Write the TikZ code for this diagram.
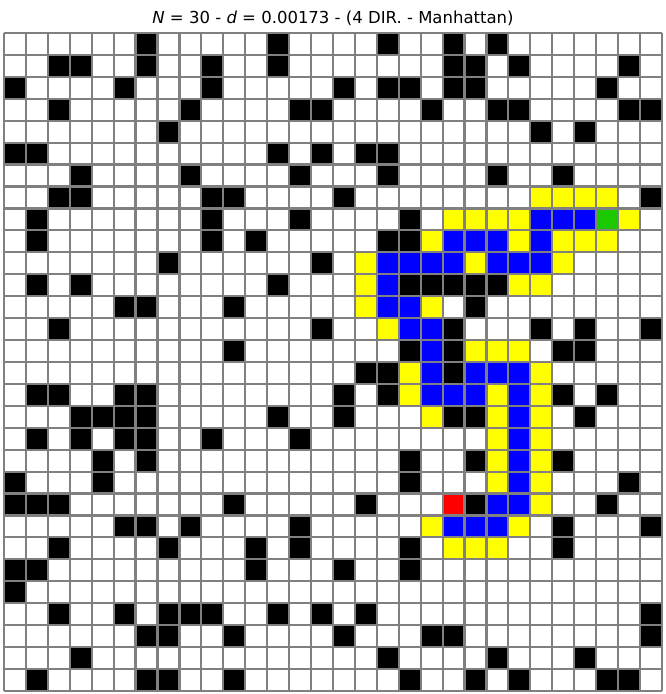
\documentclass[tikz,border=0pt]{standalone}
\usepackage{fontspec}
\setmainfont{DejaVu Sans}
\definecolor{gridgray}{HTML}{808080}
\definecolor{pathblue}{HTML}{0000FF}
\definecolor{openyellow}{HTML}{FFFF00}
\definecolor{goalgreen}{HTML}{1CC800}
\definecolor{startred}{HTML}{FF0000}
\tikzset{
  gridline/.style={draw=gridgray, line width=2.2pt},
  titletext/.style={font=\fontsize{16.5}{18}\selectfont, inner sep=0pt}
}
\newcommand\cellsz{21.93}
\newcommand\paintcells[2]{%
  \foreach \r/\cs in {#2}{%
    \foreach \c in \cs{%
      \fill[#1] ({4+\cellsz*\c},{33+\cellsz*\r}) rectangle ++(\cellsz,\cellsz);
    }%
  }%
}
\begin{document}
\begin{tikzpicture}[x=1pt,y=-1pt]
\fill[white] (0,0) rectangle (666,694);
\useasboundingbox (0,0) rectangle (666,694);
\node[titletext] (title) at (333,18.5) {{\itshape N} = 30 - {\itshape d} = 0.00173 - (4 DIR. - Manhattan)};
% obstacles
\paintcells{black}{0/{6,12,17,20,22},1/{2,3,6,9,12,20,21,23,28},2/{0,5,9,15,17,18,20,21,27},3/{2,8,13,14,19,22,23,28,29},4/{7,24,26},5/{0,1,12,14,16,17},6/{3,8,13,17,22,25},7/{2,3,9,10,15,29},8/{1,9,13,18},9/{1,9,11,17,18},10/{7,14},11/{1,3,12,18,19,20,21,22},12/{5,6,10,21},13/{2,14,20,24,26,29},14/{10,18,20,25,26},15/{16,17,20},16/{1,2,5,6,15,17,25,27},17/{3,4,5,6,12,15,20,21,26},18/{1,3,5,6,9,13},19/{4,6,18,21,25},20/{0,4,18,28},21/{0,1,2,10,16,21,27},22/{5,6,8,13,25,29},23/{2,7,11,13,18,25},24/{0,1,11,15,18},25/{0},26/{2,5,7,8,9,12,14,16,29},27/{6,7,10,15,19,20,29},28/{3,17,22,26},29/{1,6,7,10,18,21,23,27,28}}
% explored frontier
\paintcells{openyellow}{7/{24,25,26,27},8/{20,21,22,23,28},9/{19,23,25,26,27},10/{16,21,25},11/{16,23,24},12/{16,19},13/{17},14/{21,22,23},15/{18,24},16/{18,22,24},17/{19,22,24},18/{22,24},19/{22,24},20/{22,24},21/{24},22/{19,23},23/{20,21,22}}
% path
\paintcells{pathblue}{8/{24,25,26},9/{20,21,22,24},10/{17,18,19,20,22,23,24},11/{17},12/{17,18},13/{18,19},14/{19},15/{19,21,22,23},16/{19,20,21,23},17/{23},18/{23},19/{23},20/{23},21/{22,23},22/{20,21,22}}
\paintcells{goalgreen}{8/{27}}
\paintcells{startred}{21/{20}}
% grid
\foreach \i in {0,...,30}{
  \draw[gridline] ({4+\cellsz*\i},33) -- ({4+\cellsz*\i},{33+\cellsz*30});
  \draw[gridline] (4,{33+\cellsz*\i}) -- ({4+\cellsz*30},{33+\cellsz*\i});
}
\end{tikzpicture}
\end{document}
